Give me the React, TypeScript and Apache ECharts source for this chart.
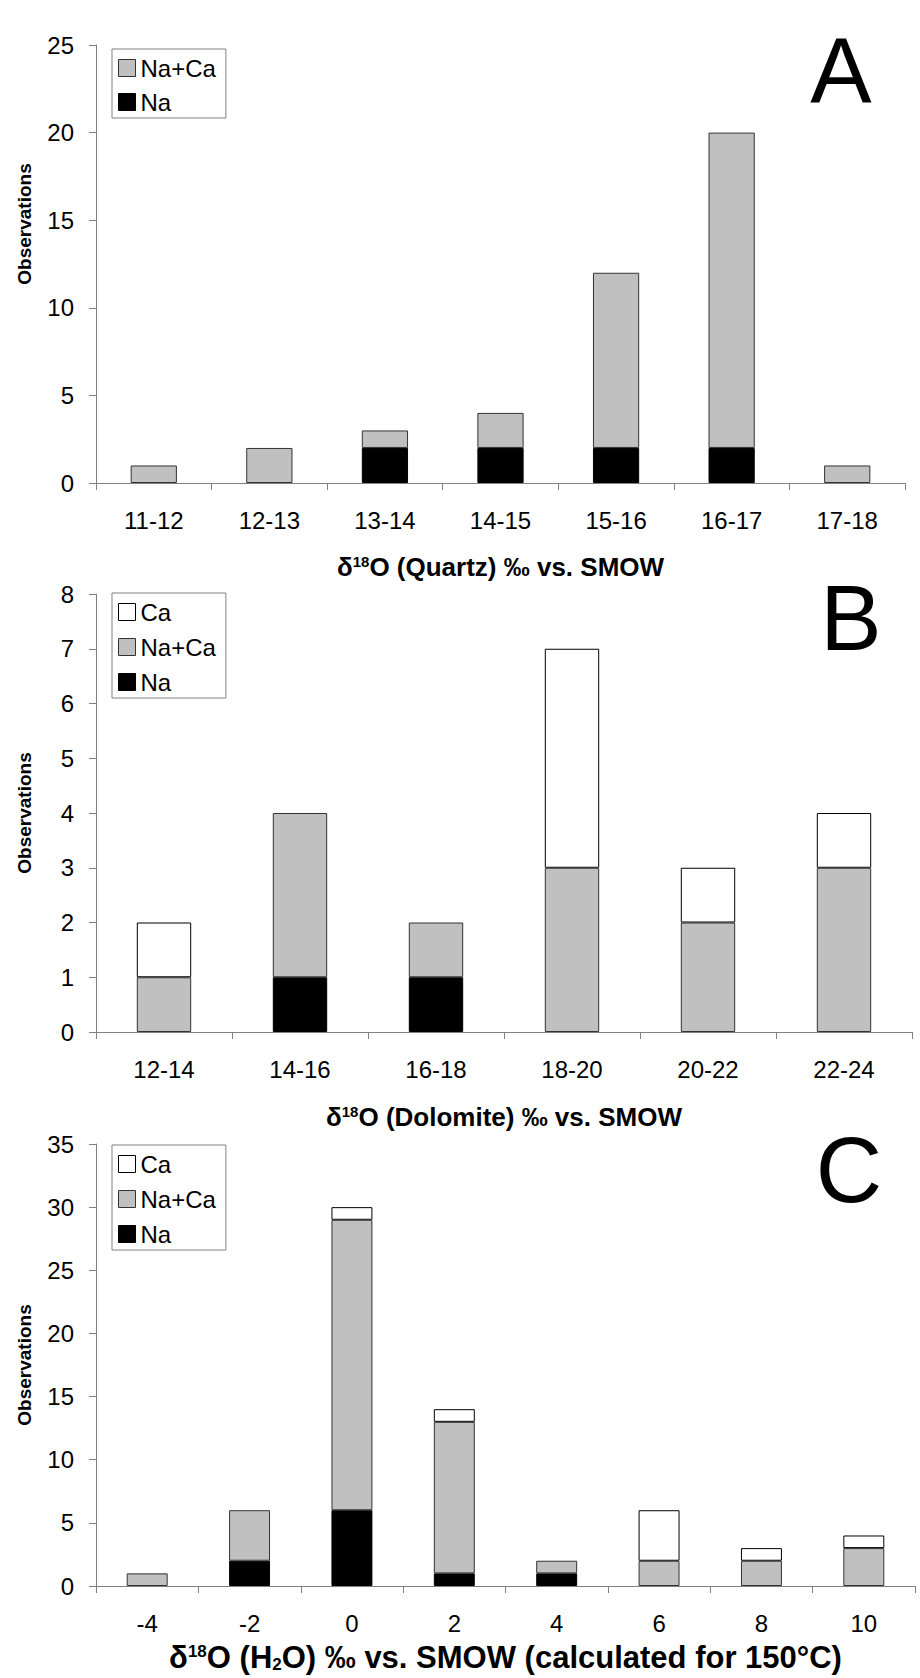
import React, { useEffect, useRef } from "react";
import * as echarts from "echarts";

// ---- Data ----
const catsA = ["11-12", "12-13", "13-14", "14-15", "15-16", "16-17", "17-18"];
const naA = [0, 0, 2, 2, 2, 2, 0];
const naCaA = [1, 2, 1, 2, 10, 18, 1];

const catsB = ["12-14", "14-16", "16-18", "18-20", "20-22", "22-24"];
const naB = [0, 1, 1, 0, 0, 0];
const naCaB = [1, 3, 1, 3, 2, 3];
const caB = [1, 0, 0, 4, 1, 1];

const catsC = ["-4", "-2", "0", "2", "4", "6", "8", "10"];
const naC = [0, 2, 6, 1, 1, 0, 0, 0];
const naCaC = [1, 4, 23, 12, 1, 2, 2, 3];
const caC = [0, 0, 1, 1, 0, 4, 1, 1];

const yScaleA = [0, 25, 5];
const yScaleB = [0, 8, 1];
const yScaleC = [0, 35, 5];

const panelLetters = ["A", "B", "C"];
const xTitleA = "{m|δ}{sup|18}{m|O (Quartz) ‰ vs. SMOW}";
const xTitleB = "{m|δ}{sup|18}{m|O (Dolomite) ‰ vs. SMOW}";
const xTitleC = "{m|δ}{sup|18}{m|O (H}{sub|2}{m|O) ‰ vs. SMOW (calculated for 150°C)}";
const yTitle = "Observations";

const FONT = '"Liberation Sans", Arial, Helvetica, sans-serif';
const GRAY = "#c0c0c0";
const AXIS = "#808080";

function richName(main: number, small: number, shiftPad: number) {
  const base = { fontWeight: "bold", fontFamily: FONT, color: "#000" };
  return {
    m: { ...base, fontSize: main, lineHeight: main },
    sup: { ...base, fontSize: small, lineHeight: small - 1, padding: [0, 0, shiftPad, 0] },
    sub: { ...base, fontSize: small, lineHeight: small - 1, padding: [shiftPad, 0, 0, 0] },
  };
}

const grids = [
  { left: 96, top: 45, width: 809, height: 438 },
  { left: 96, top: 594, width: 816, height: 438 },
  { left: 96, top: 1144, width: 819, height: 442 },
];

function seg(name: string, data: number[], color: string, border: string, idx: number) {
  return {
    type: "bar",
    name,
    stack: "s" + idx,
    xAxisIndex: idx,
    yAxisIndex: idx,
    barCategoryGap: "60%",
    data: data.map((v) => (v === 0 ? "-" : v)),
    itemStyle: { color, borderColor: border, borderWidth: 1 },
  };
}

const legendItem = (name: string) => {
  if (name === "Ca") return { name, icon: "rect", itemStyle: { color: "#fff", borderColor: "#000", borderWidth: 1 } };
  if (name === "Na+Ca") return { name, icon: "rect", itemStyle: { color: GRAY, borderColor: "#333", borderWidth: 1 } };
  return { name, icon: "rect", itemStyle: { color: "#000", borderColor: "#000", borderWidth: 1 } };
};

function legend(top: number, names: string[], gap: number) {
  return {
    orient: "vertical",
    left: 112,
    top,
    icon: "rect",
    padding: [7, 10, 4, 6],
    itemGap: gap,
    itemWidth: 17,
    itemHeight: 17,
    borderColor: AXIS,
    borderWidth: 1,
    backgroundColor: "#fff",
    selectedMode: false,
    textStyle: { fontSize: 24, fontFamily: FONT, color: "#000" },
    data: names.map(legendItem),
  };
}

function xAxis(idx: number, cats: string[], name: string, nameGap: number, rich: any) {
  return {
    type: "category",
    gridIndex: idx,
    data: cats,
    axisLine: { show: true, lineStyle: { color: AXIS, width: 1 } },
    axisTick: { show: true, length: 7, lineStyle: { color: AXIS } },
    axisLabel: { fontSize: 24, color: "#000", margin: 25, interval: 0, fontFamily: FONT },
    splitLine: { show: false },
    name,
    nameLocation: "middle",
    nameGap,
    nameMoveOverlap: false,
    nameTextStyle: { rich, fontWeight: "bold", fontFamily: FONT, color: "#000" },
  };
}

function yAxis(idx: number, scale: number[], pad: number[]) {
  return {
    type: "value",
    gridIndex: idx,
    min: scale[0],
    max: scale[1],
    interval: scale[2],
    axisLine: { show: true, lineStyle: { color: AXIS, width: 1 } },
    axisTick: { show: true, length: 7, lineStyle: { color: AXIS } },
    splitLine: { show: false },
    axisLabel: { fontSize: 24, color: "#000", margin: 22, fontFamily: FONT },
    name: yTitle,
    nameLocation: "middle",
    nameRotate: 90,
    nameGap: 62,
    nameMoveOverlap: false,
    nameTextStyle: { fontSize: 19, fontWeight: "bold", color: "#000", fontFamily: FONT, padding: pad },
  };
}

const letterPos = [
  [841, 71],
  [851, 618],
  [849, 1170],
];

export default function App() {
  const ref = useRef<HTMLDivElement>(null);
  useEffect(() => {
    if (!ref.current) return;
    const chart = echarts.init(ref.current, null, { renderer: "svg" });
    const richAB = richName(26, 15, 12);
    const richC = richName(31, 17, 13);
    const option: any = {
      animation: false,
      backgroundColor: "#fff",
      textStyle: { fontFamily: FONT },
      grid: grids.map((g) => ({ ...g, outerBoundsMode: "none", containLabel: false })),
      legend: [
        legend(49, ["Na+Ca", "Na"], 10),
        legend(593, ["Ca", "Na+Ca", "Na"], 11),
        legend(1145, ["Ca", "Na+Ca", "Na"], 11),
      ],
      xAxis: [
        xAxis(0, catsA, xTitleA, 71, richAB),
        xAxis(1, catsB, xTitleB, 72, richAB),
        xAxis(2, catsC, xTitleC, 56, richC),
      ],
      yAxis: [
        yAxis(0, yScaleA, [0, 0, 0, 80]),
        yAxis(1, yScaleB, [0, 0, 0, 0]),
        yAxis(2, yScaleC, [0, 0, 0, 0]),
      ],
      series: [
        seg("Na", naA, "#000", "#000", 0),
        seg("Na+Ca", naCaA, GRAY, "#333", 0),
        seg("Na", naB, "#000", "#000", 1),
        seg("Na+Ca", naCaB, GRAY, "#333", 1),
        seg("Ca", caB, "#fff", "#000", 1),
        seg("Na", naC, "#000", "#000", 2),
        seg("Na+Ca", naCaC, GRAY, "#333", 2),
        seg("Ca", caC, "#fff", "#000", 2),
      ],
      graphic: panelLetters.map((t, i) => ({
        type: "text",
        x: letterPos[i][0],
        y: letterPos[i][1],
        style: {
          text: t,
          fill: "#000",
          font: `92px ${FONT}`,
          textAlign: "center",
          textVerticalAlign: "middle",
        },
      })),
    };
    chart.setOption(option);
    return () => chart.dispose();
  }, []);
  return (
    <div
      ref={ref}
      style={{ position: "absolute", left: 0, top: 0, width: 920, height: 1678, background: "#fff" }}
    />
  );
}
